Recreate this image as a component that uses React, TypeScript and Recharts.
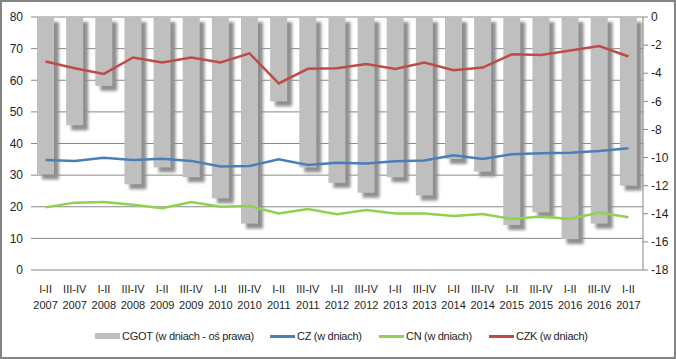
import {
  ComposedChart,
  Bar,
  Line,
  XAxis,
  YAxis,
  CartesianGrid,
} from "recharts";

const periods = [
  "I-II", "III-IV", "I-II", "III-IV", "I-II", "III-IV", "I-II", "III-IV",
  "I-II", "III-IV", "I-II", "III-IV", "I-II", "III-IV", "I-II", "III-IV",
  "I-II", "III-IV", "I-II", "III-IV", "I-II",
];
const years = [
  "2007", "2007", "2008", "2008", "2009", "2009", "2010", "2010",
  "2011", "2011", "2012", "2012", "2013", "2013", "2014", "2014",
  "2015", "2015", "2016", "2016", "2017",
];

// CGOT (right axis, days)
const cgot = [
  -11.2, -7.7, -4.9, -11.9, -10.7, -11.4, -12.9, -14.7, -6.0, -10.7, -11.8,
  -12.5, -11.4, -12.7, -10.1, -11.0, -14.8, -13.9, -15.8, -14.7, -12.0,
];
const cz = [
  34.8, 34.5, 35.5, 34.8, 35.2, 34.5, 32.7, 32.9, 35.0, 33.2, 33.9,
  33.7, 34.4, 34.6, 36.3, 35.1, 36.6, 36.9, 37.1, 37.6, 38.5,
];
const cn = [
  19.8, 21.3, 21.5, 20.6, 19.5, 21.5, 20.0, 20.2, 17.9, 19.3, 17.6,
  19.0, 17.9, 17.9, 17.1, 17.7, 16.1, 16.9, 16.1, 18.2, 16.7,
];
const czk = [
  65.9, 63.8, 62.0, 67.2, 65.6, 67.2, 65.6, 68.5, 59.0, 63.6, 63.8,
  65.1, 63.6, 65.6, 63.2, 64.0, 68.2, 68.0, 69.4, 70.8, 67.5,
];

const leftTicks = [0, 10, 20, 30, 40, 50, 60, 70, 80];
const rightTicks = [0, -2, -4, -6, -8, -10, -12, -14, -16, -18];

const data = periods.map((p, i) => ({
  label: `${p} ${years[i]}`,
  cgot: cgot[i],
  cz: cz[i],
  cn: cn[i],
  czk: czk[i],
}));

const FONT = "'Liberation Sans', Arial, sans-serif";
const GRID = "#888888";
const TXT = "#1e1e1e";

const ShadowBar = (props: any) => {
  const { x, y, width, height } = props;
  const top = Math.min(y, y + height);
  const h = Math.abs(height);
  return (
    <g>
      <defs>
        <filter id="barBlur" x="-50%" y="-20%" width="200%" height="140%">
          <feGaussianBlur stdDeviation="1.6" />
        </filter>
      </defs>
      <rect x={x + 5} y={top + 5} width={width} height={h} fill="#8f8f8f" filter="url(#barBlur)" />
      <rect x={x} y={top} width={width} height={h} fill="#bfbfbf" />
    </g>
  );
};

const XTick = (props: any) => {
  const { x, y, payload } = props;
  const i = payload.index;
  return (
    <text x={x} y={y} textAnchor="middle" fontSize={11} fill={TXT} fontFamily={FONT}>
      <tspan x={x} dy={15}>{periods[i]}</tspan>
      <tspan x={x} dy={16}>{years[i]}</tspan>
    </text>
  );
};

const legendItems = [
  { name: "CGOT (w dniach - oś prawa)", color: "#bfbfbf", box: true, left: 95 },
  { name: "CZ (w dniach)", color: "#4a7ebb", box: false, left: 270 },
  { name: "CN (w dniach)", color: "#92d050", box: false, left: 379 },
  { name: "CZK (w dniach)", color: "#be4b48", box: false, left: 489 },
];

export default function App() {
  return (
    <div style={{ position: "fixed", left: 0, top: 0, width: 676, height: 359, background: "#fff", fontFamily: FONT }}>
      <ComposedChart
        width={676}
        height={359}
        data={data}
        margin={{ top: 17, right: 0, bottom: 49, left: 0 }}
      >
        <CartesianGrid yAxisId="left" vertical={false} stroke={GRID} />
        <XAxis
          dataKey="label"
          interval={0}
          axisLine={false}
          tickLine={false}
          height={40}
          tick={<XTick />}
        />
        <YAxis
          yAxisId="left"
          domain={[0, 80]}
          ticks={leftTicks}
          width={31}
          axisLine={false}
          tickLine={false}
          tickSize={6}
          tickMargin={2}
          tick={{ fontSize: 12, fill: TXT, fontFamily: FONT }}
        />
        <YAxis
          yAxisId="right"
          orientation="right"
          domain={[-18, 0]}
          ticks={rightTicks}
          width={33}
          axisLine={{ stroke: GRID }}
          tickLine={{ stroke: GRID }}
          tickSize={5}
          tickMargin={3}
          tick={{ fontSize: 12, fill: TXT, fontFamily: FONT }}
        />
        <Bar
          yAxisId="right"
          dataKey="cgot"
          barSize={17}
          fill="#bfbfbf"
          shape={<ShadowBar />}
          isAnimationActive={false}
        />
        <Line yAxisId="left" type="linear" dataKey="cz" stroke="#4a7ebb" strokeWidth={2.5} dot={false} isAnimationActive={false} />
        <Line yAxisId="left" type="linear" dataKey="cn" stroke="#92d050" strokeWidth={2.5} dot={false} isAnimationActive={false} />
        <Line yAxisId="left" type="linear" dataKey="czk" stroke="#be4b48" strokeWidth={2.5} dot={false} isAnimationActive={false} />
      </ComposedChart>

      {legendItems.map((it) => (
        <div
          key={it.name}
          style={{
            position: "absolute",
            left: it.left,
            top: 327,
            height: 18,
            display: "flex",
            alignItems: "center",
            fontSize: 11,
            letterSpacing: -0.3,
            color: TXT,
            whiteSpace: "nowrap",
          }}
        >
          <span
            style={{
              display: "inline-block",
              width: 25,
              height: it.box ? 6 : 3,
              background: it.color,
              marginRight: 2,
            }}
          />
          <span>{it.name}</span>
        </div>
      ))}

      <div style={{ position: "absolute", inset: 0, border: "2px solid #848484", boxSizing: "border-box", pointerEvents: "none" }} />
    </div>
  );
}
